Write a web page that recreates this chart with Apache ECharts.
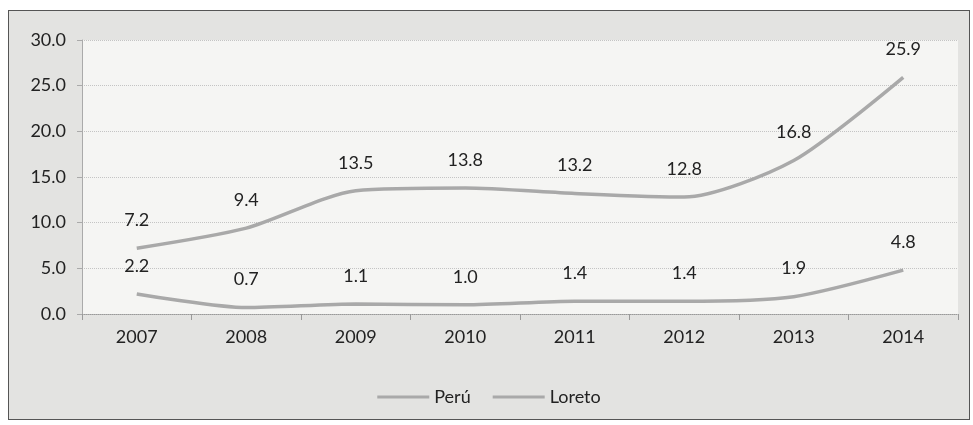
<!DOCTYPE html>
<html>
<head>
<meta charset="utf-8">
<script src="https://cdn.jsdelivr.net/npm/echarts@6/dist/echarts.min.js"></script>
<style>
  html, body { margin: 0; padding: 0; background: #fff; }
  .frame {
    position: absolute;
    left: 8px;
    top: 10px;
    width: 960px;
    height: 408px;
    border: 1.5px solid #555;
    background: #e3e3e1;
  }
  #chart { width: 960px; height: 408px; }
</style>
</head>
<body>
<div class="frame">
  <div id="chart"></div>
</div>
<script>
// values
const years = ['2007', '2008', '2009', '2010', '2011', '2012', '2013', '2014']
const peru = [7.2, 9.4, 13.5, 13.8, 13.2, 12.8, 16.8, 25.9]
const loreto = [2.2, 0.7, 1.1, 1.0, 1.4, 1.4, 1.9, 4.8]

const FONT = 'Lato, "Open Sans", sans-serif'
const LINE = '#a9a9a9'

const chart = echarts.init(document.getElementById('chart'))

const makeSeries = (name, data) => ({
  name: name,
  type: 'line',
  data: data,
  smooth: 0.25,
  symbol: 'circle',
  symbolSize: 2,
  showSymbol: true,
  lineStyle: { color: LINE, width: 3.5 },
  itemStyle: { color: 'rgba(0,0,0,0)', borderWidth: 0 },
  label: {
    show: true,
    position: 'top',
    distance: 18,
    color: '#222',
    fontSize: 18,
    fontFamily: FONT,
    formatter: p => p.value.toFixed(1)
  }
})

chart.setOption({
  animation: false,
  textStyle: { fontFamily: FONT },
  grid: {
    left: 73,
    top: 29,
    width: 876,
    height: 274,
    show: true,
    backgroundColor: '#f5f5f3',
    borderWidth: 0
  },
  legend: {
    data: ['Perú', 'Loreto'],
    top: 372,
    left: 'center',
    icon: 'rect',
    itemWidth: 52,
    itemHeight: 3,
    itemGap: 22,
    itemStyle: { color: LINE },
    textStyle: { fontSize: 18, color: '#222', fontFamily: FONT }
  },
  xAxis: {
    type: 'category',
    data: years,
    boundaryGap: true,
    axisLine: { lineStyle: { color: '#9a9a9a', type: 'dotted', width: 1 } },
    axisTick: { show: true, length: 6, lineStyle: { color: '#9a9a9a' } },
    axisLabel: { fontSize: 18, color: '#222', margin: 14, fontFamily: FONT }
  },
  yAxis: {
    type: 'value',
    min: 0,
    max: 30,
    interval: 5,
    axisLine: { show: true, lineStyle: { color: '#aaa', width: 1 } },
    axisTick: { show: true, length: 5, lineStyle: { color: '#aaa' } },
    axisLabel: {
      fontSize: 18,
      color: '#222',
      margin: 16,
      fontFamily: FONT,
      formatter: v => v.toFixed(1)
    },
    splitLine: { lineStyle: { color: '#c4c4c4', type: 'dotted' } }
  },
  series: [makeSeries('Perú', peru), makeSeries('Loreto', loreto)]
})
</script>
</body>
</html>
